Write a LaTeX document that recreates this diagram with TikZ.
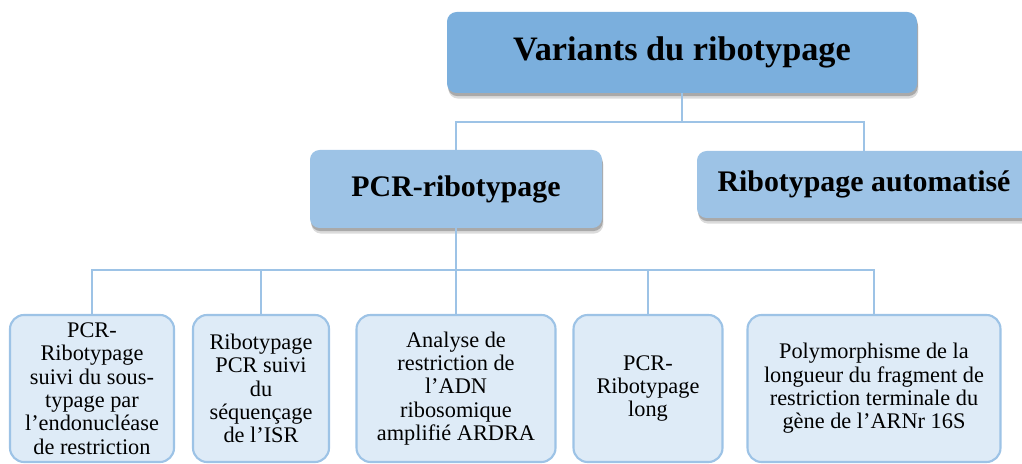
\documentclass[tikz,border=0pt]{standalone}
\usepackage{fontspec}
\setmainfont{Liberation Serif}
\usetikzlibrary{shadows}
\definecolor{boxdark}{RGB}{123,175,221}
\definecolor{boxmid}{RGB}{157,195,230}
\definecolor{boxlight}{RGB}{222,235,247}

\begin{document}
\begin{tikzpicture}[
    softshadow/.style={
        drop shadow={shadow xshift=0.8pt, shadow yshift=-3.2pt, opacity=0.2, fill=black!70},
        drop shadow={shadow xshift=0.5pt, shadow yshift=-1.8pt, opacity=0.35, fill=black!70}},
    headbox/.style={rounded corners=5.5pt, fill=boxdark, softshadow,
        font=\bfseries\fontsize{19.5}{22}\selectfont},
    subbox/.style={rounded corners=5.5pt, fill=boxmid, softshadow,
        font=\bfseries\fontsize{17}{20}\selectfont},
    leafbox/.style={rounded corners=8pt, draw=boxmid, line width=1.2pt, fill=boxlight,
        minimum height=2.94cm, align=center, inner sep=0pt,
        font=\fontsize{12.7}{13.3}\selectfont},
    link/.style={draw=boxmid, line width=1.1pt}]
        \useasboundingbox (0,0) rectangle (20.44,-9.28);
        % top levels
        \node[headbox, minimum width=9.4cm, minimum height=1.62cm] (variants) at (13.64,-1.05) {Variants du ribotypage};
        \node[subbox, minimum width=5.84cm, minimum height=1.56cm] (pcr) at (9.12,-3.78) {PCR-ribotypage};
        \node[subbox, minimum width=6.68cm, minimum height=1.34cm] (auto) at (17.28,-3.69) {Ribotypage automatisé};
        % leaves
        \node[leafbox, minimum width=3.28cm] (endo) at (1.84,-7.77) {PCR-\\Ribotypage\\suivi du sous-\\typage par\\l’endonucléase\\de restriction};
        \node[leafbox, minimum width=2.72cm] (isr) at (5.22,-7.77) {Ribotypage\\PCR suivi\\du\\séquençage\\de l’ISR};
        \node[leafbox, minimum width=3.98cm] (ardra) at (9.12,-7.77) {Analyse de\\restriction de\\l’ADN\\ribosomique\\amplifié ARDRA};
        \node[leafbox, minimum width=2.98cm] (long) at (12.96,-7.77) {PCR-\\Ribotypage\\long};
        \node[leafbox, minimum width=5.06cm] (trflp) at (17.48,-7.77) {Polymorphisme de la\\longueur du fragment de\\restriction terminale du\\gène de l’ARNr 16S};
        % connectors
        \coordinate (fork1) at (13.64,-2.44);
        \coordinate (fork2) at (9.12,-5.40);
        \draw[link] (variants.south) -- (fork1);
        \draw[link] (fork1) -| (pcr.north);
        \draw[link] (fork1) -| (auto.north);
        \draw[link] (pcr.south) -- (ardra.north);
        \draw[link] (fork2) -| (endo.north);
        \draw[link] (fork2) -| (isr.north);
        \draw[link] (fork2) -| (long.north);
        \draw[link] (fork2) -| (trflp.north);
    \end{tikzpicture}
\end{document}
